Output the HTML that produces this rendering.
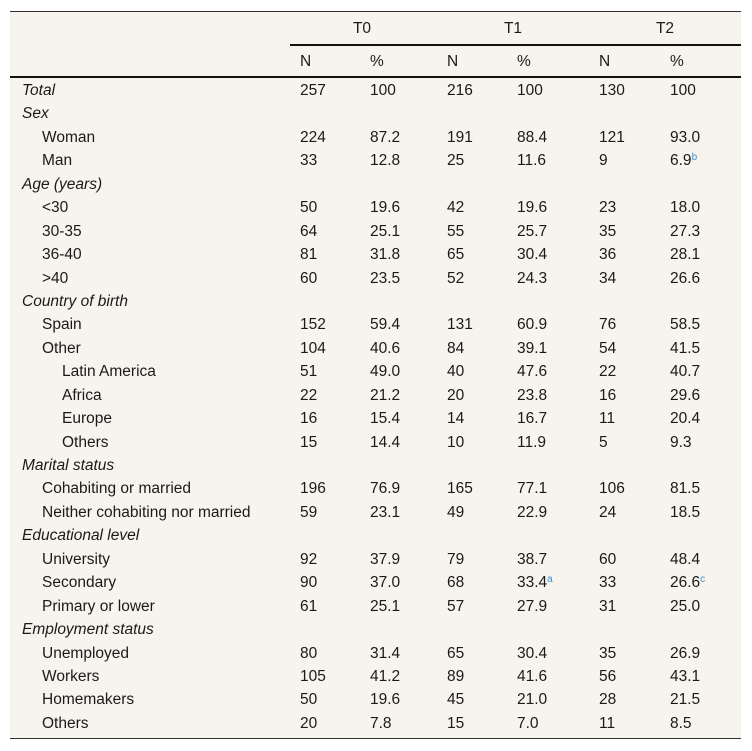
<!DOCTYPE html>
<html><head><meta charset="utf-8"><style>
body{margin:0;background:#fff;width:752px;height:751px;position:relative;font-family:"Liberation Sans",sans-serif;font-size:15.5px;color:#1a1a1a;overflow:hidden}
#tbl{position:absolute;left:10px;top:11px;width:731px;height:728px;background:#f7f4ee;border-top:1px solid #333;border-bottom:1px solid #333;box-sizing:border-box}
.c{position:absolute;white-space:nowrap;line-height:16px}
.ln{position:absolute;background:#111}
sup{color:#3a8fd6;font-size:10px;vertical-align:5px;line-height:0}
</style></head><body>
<div id="tbl"></div>
<script>
const labels=["Total","Sex","Woman","Man","Age (years)","<30","30-35","36-40",">40","Country of birth","Spain","Other","Latin America","Africa","Europe","Others","Marital status","Cohabiting or married","Neither cohabiting nor married","Educational level","University","Secondary","Primary or lower","Employment status","Unemployed","Workers","Homemakers","Others"];
const levels=[0,0,1,1,0,1,1,1,1,0,1,1,2,2,2,2,0,1,1,0,1,1,1,0,1,1,1,1];
const italic=[1,1,0,0,1,0,0,0,0,1,0,0,0,0,0,0,1,0,0,1,0,0,0,1,0,0,0,0];
const t0N=["257","","224","33","","50","64","81","60","","152","104","51","22","16","15","","196","59","","92","90","61","","80","105","50","20"];
const t0P=["100","","87.2","12.8","","19.6","25.1","31.8","23.5","","59.4","40.6","49.0","21.2","15.4","14.4","","76.9","23.1","","37.9","37.0","25.1","","31.4","41.2","19.6","7.8"];
const t1N=["216","","191","25","","42","55","65","52","","131","84","40","20","14","10","","165","49","","79","68","57","","65","89","45","15"];
const t1P=["100","","88.4","11.6","","19.6","25.7","30.4","24.3","","60.9","39.1","47.6","23.8","16.7","11.9","","77.1","22.9","","38.7","33.4<sup>a</sup>","27.9","","30.4","41.6","21.0","7.0"];
const t2N=["130","","121","9","","23","35","36","34","","76","54","22","16","11","5","","106","24","","60","33","31","","35","56","28","11"];
const t2P=["100","","93.0","6.9<sup>b</sup>","","18.0","27.3","28.1","26.6","","58.5","41.5","40.7","29.6","20.4","9.3","","81.5","18.5","","48.4","26.6<sup>c</sup>","25.0","","26.9","43.1","21.5","8.5"];
const T=document.getElementById('tbl');
function add(html,x,y,name,center){const d=document.createElement('div');d.className='c';d.innerHTML=html;d.style.left=(x-10)+'px';d.style.top=(y-11-7)+'px';if(center){d.style.transform='translateX(-50%)';}


T.appendChild(d);return d;}
function line(x1,x2,y,h,name){const d=document.createElement('div');d.className='ln';d.style.left=(x1-10)+'px';d.style.width=(x2-x1)+'px';d.style.top=(y-11)+'px';d.style.height=h+'px';


T.appendChild(d);}
add("T0",362,27,"header-t0",true);add("T1",513,27,"header-t1",true);add("T2",665,27,"header-t2",true);
line(290,741,43,2,"header-rule");
[["N",300],["%",370],["N",447],["%",517],["N",599],["%",670]].forEach((h,i)=>add(h[0],h[1],60,"subheader-"+(h[0]=="N"?"n":"pct")+"-"+i,false));
line(10,741,75,2,"header-bottom-rule");
const cols=[[t0N,300],[t0P,370],[t1N,447],[t1P,517],[t2N,599],[t2P,670]];
labels.forEach((l,i)=>{const y=89+i*23.44;
const d=add(l.replace('<','&lt;').replace('>','&gt;'),22+levels[i]*20,y,"row-label",false);if(italic[i])d.style.fontStyle='italic';
cols.forEach(c=>{if(c[0][i])add(c[0][i],c[1],y,"cell-value",false);});});
</script>
</body></html>
